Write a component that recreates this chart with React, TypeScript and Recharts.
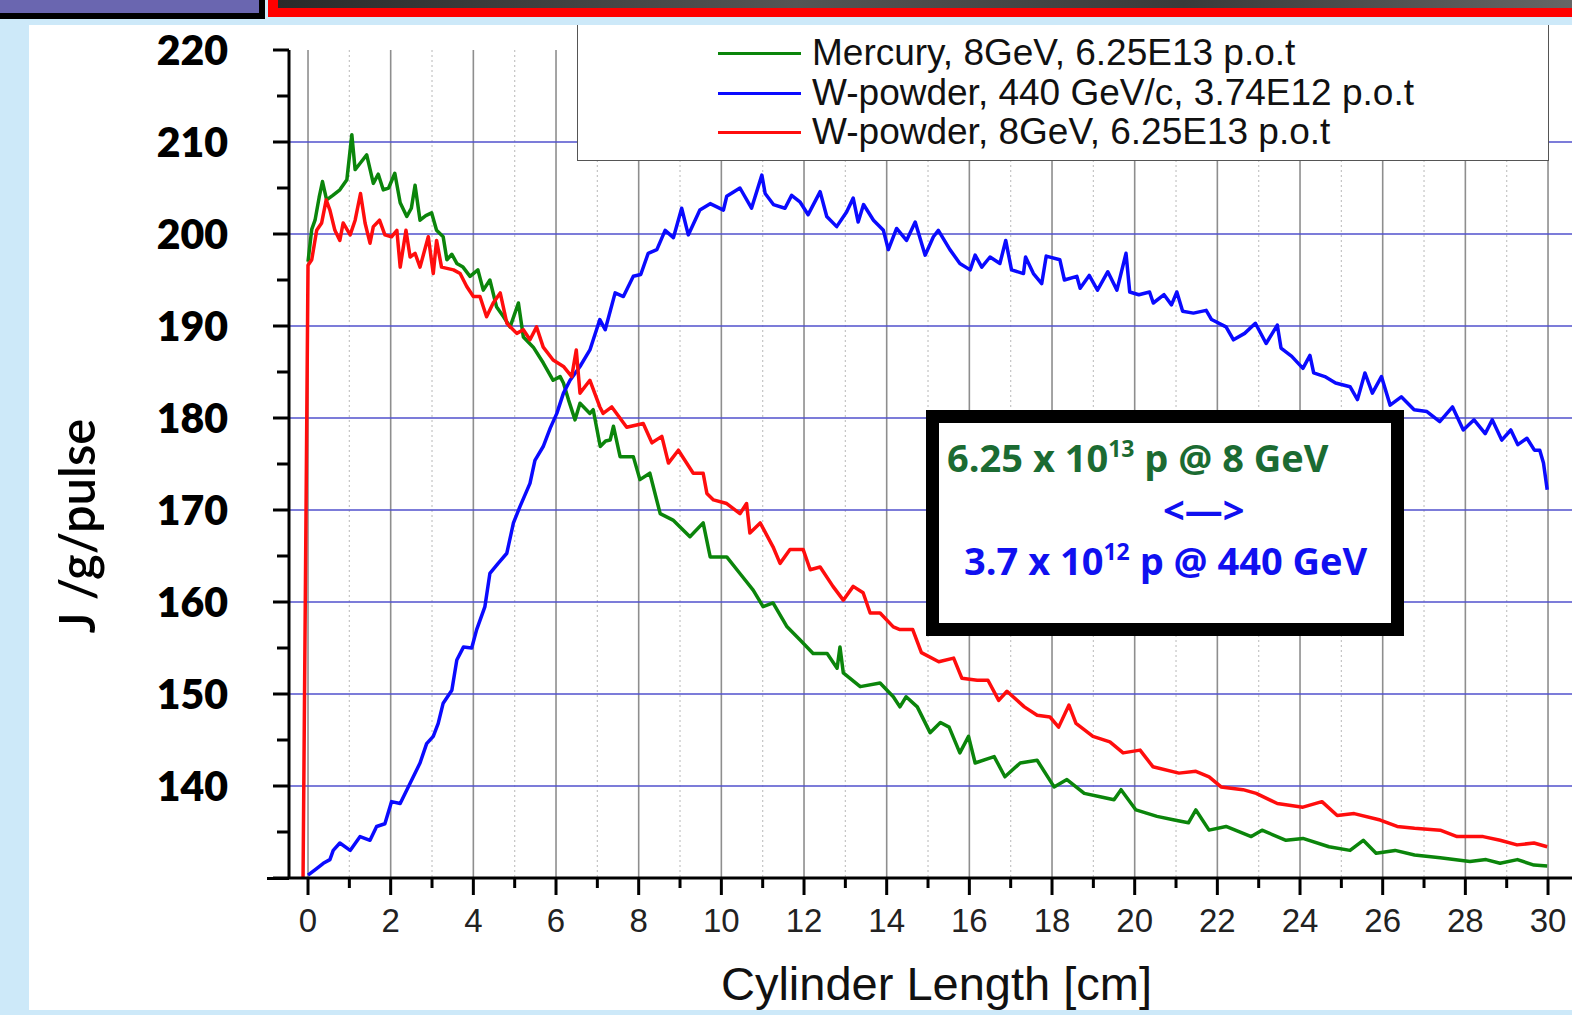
import { LineChart, Line, XAxis, YAxis, CartesianGrid } from "recharts";

// [cylinder length cm, J/g/pulse]
const mercury: [number, number][] = [
  [0, 197.0], [0.09, 200.5], [0.17, 201.5], [0.27, 204.0], [0.35, 205.7], [0.45, 203.7], [0.6, 204.2],
  [0.77, 204.8], [0.94, 205.9], [1.06, 210.8], [1.14, 207.0], [1.28, 207.8], [1.42, 208.6], [1.58, 205.5],
  [1.7, 206.5], [1.82, 204.8], [1.95, 205.0], [2.1, 206.6], [2.23, 203.4], [2.39, 201.9], [2.5, 202.8],
  [2.59, 205.3], [2.71, 201.5], [2.85, 202.0], [2.99, 202.3], [3.11, 200.4], [3.27, 199.7], [3.36, 197.2],
  [3.48, 197.8], [3.6, 196.8], [3.75, 196.4], [3.92, 195.4], [4.11, 196.1], [4.24, 193.9], [4.4, 195.0],
  [4.56, 192.1], [4.73, 191.0], [4.89, 189.9], [5.09, 192.5], [5.21, 188.8], [5.45, 187.7], [5.69, 186.0],
  [5.93, 184.1], [6.1, 184.5], [6.18, 183.8], [6.3, 182.0], [6.46, 179.8], [6.58, 181.6], [6.82, 180.5],
  [6.9, 180.9], [7.07, 176.9], [7.2, 177.5], [7.31, 177.6], [7.39, 179.1], [7.55, 175.8], [7.87, 175.8],
  [8.03, 173.3], [8.27, 174.0], [8.52, 169.6], [8.83, 168.9], [9.24, 167.1], [9.56, 168.6], [9.73, 164.9],
  [10.13, 164.9], [10.45, 163.1], [10.77, 161.3], [11.01, 159.5], [11.25, 159.9], [11.59, 157.3],
  [11.9, 155.9], [12.22, 154.4], [12.56, 154.4], [12.8, 152.8], [12.87, 155.1], [12.95, 152.3],
  [13.36, 150.8], [13.84, 151.2], [14.16, 149.7], [14.32, 148.6], [14.47, 149.7], [14.74, 148.6],
  [15.05, 145.8], [15.3, 146.9], [15.51, 146.4], [15.77, 143.6], [15.98, 145.4], [16.14, 142.5],
  [16.6, 143.2], [16.86, 141.0], [17.23, 142.5], [17.64, 142.8], [18.05, 139.9], [18.36, 140.7],
  [18.78, 139.2], [19.19, 138.8], [19.5, 138.5], [19.67, 139.6], [20.03, 137.4], [20.54, 136.7],
  [20.96, 136.3], [21.3, 136.0], [21.48, 137.4], [21.8, 135.2], [22.21, 135.6], [22.82, 134.5],
  [23.08, 135.2], [23.66, 134.1], [24.07, 134.3], [24.7, 133.4], [25.21, 133.0], [25.53, 134.1],
  [25.84, 132.7], [26.3, 133.0], [26.77, 132.5], [27.39, 132.2], [28.11, 131.8], [28.5, 132.0],
  [28.84, 131.6], [29.26, 132.0], [29.66, 131.4], [29.98, 131.3],
];

const wPowder440: [number, number][] = [
  [0, 130.3], [0.2, 131.0], [0.37, 131.6], [0.53, 132.0], [0.61, 133.0], [0.77, 133.8], [1.02, 133.0],
  [1.26, 134.5], [1.5, 134.1], [1.66, 135.6], [1.86, 135.9], [2.02, 138.3], [2.23, 138.1], [2.47, 140.3],
  [2.71, 142.5], [2.87, 144.6], [3.03, 145.4], [3.15, 146.8], [3.27, 149.0], [3.48, 150.4], [3.6, 153.7],
  [3.76, 155.1], [3.96, 155.0], [4.08, 157.0], [4.28, 159.5], [4.4, 163.1], [4.6, 164.2], [4.81, 165.3],
  [4.97, 168.6], [5.13, 170.4], [5.37, 172.9], [5.49, 175.4], [5.69, 176.9], [5.86, 178.9], [6.02, 180.5],
  [6.18, 182.7], [6.34, 184.1], [6.58, 185.6], [6.82, 187.4], [7.06, 190.7], [7.19, 189.6], [7.43, 193.6],
  [7.63, 193.2], [7.87, 195.4], [8.05, 195.6], [8.23, 197.9], [8.44, 198.3], [8.64, 200.4], [8.84, 199.6],
  [9.04, 202.8], [9.2, 199.9], [9.48, 202.6], [9.73, 203.3], [10.05, 202.6], [10.13, 204.1], [10.45, 205.0],
  [10.73, 202.8], [10.98, 206.4], [11.06, 204.4], [11.26, 203.2], [11.54, 202.8], [11.7, 204.2],
  [11.9, 203.5], [12.1, 202.1], [12.39, 204.6], [12.55, 201.9], [12.79, 200.8], [13.03, 202.4],
  [13.19, 203.9], [13.31, 201.3], [13.44, 203.2], [13.68, 201.5], [13.92, 200.4], [14.04, 198.3],
  [14.24, 200.6], [14.48, 199.3], [14.69, 201.3], [14.93, 197.7], [15.13, 199.7], [15.25, 200.4],
  [15.53, 198.3], [15.77, 196.8], [16.02, 196.1], [16.14, 197.7], [16.3, 196.4], [16.5, 197.5],
  [16.74, 196.8], [16.88, 199.3], [17.02, 196.1], [17.31, 195.7], [17.36, 197.5], [17.55, 195.7],
  [17.75, 194.6], [17.86, 197.6], [18.19, 197.2], [18.3, 195.0], [18.6, 195.4], [18.68, 194.1],
  [18.9, 195.5], [19.1, 193.9], [19.35, 195.9], [19.57, 193.9], [19.79, 197.9], [19.88, 193.7],
  [20.1, 193.4], [20.36, 193.7], [20.45, 192.5], [20.71, 193.4], [20.89, 192.3], [21.02, 193.7],
  [21.16, 191.6], [21.42, 191.4], [21.73, 191.7], [21.86, 190.7], [22.21, 189.9], [22.39, 188.5],
  [22.66, 189.2], [22.92, 190.3], [23.18, 188.1], [23.45, 190.1], [23.54, 187.6], [23.8, 186.7],
  [24.07, 185.4], [24.24, 186.8], [24.33, 184.9], [24.6, 184.5], [24.86, 183.8], [25.21, 183.4],
  [25.39, 182.0], [25.57, 184.9], [25.75, 182.7], [25.97, 184.5], [26.18, 181.4], [26.45, 182.3],
  [26.76, 180.9], [27.07, 180.7], [27.38, 179.6], [27.69, 181.2], [27.95, 178.7], [28.21, 179.8],
  [28.48, 178.3], [28.65, 179.8], [28.88, 177.6], [29.1, 178.7], [29.27, 177.1], [29.49, 177.8],
  [29.67, 176.5], [29.8, 176.5], [29.89, 175.1], [29.98, 172.2],
];

const wPowder8: [number, number][] = [
  [-0.12, 130.0], [0, 196.6], [0.09, 197.2], [0.21, 200.4], [0.33, 201.2], [0.44, 203.7], [0.53, 202.6],
  [0.65, 200.4], [0.77, 199.3], [0.85, 201.2], [1.02, 199.9], [1.14, 201.5], [1.27, 204.4], [1.38, 201.2],
  [1.5, 199.0], [1.58, 200.8], [1.73, 201.5], [1.86, 199.9], [2.02, 199.7], [2.15, 200.4], [2.23, 196.4],
  [2.37, 200.4], [2.47, 197.5], [2.59, 197.9], [2.71, 196.4], [2.91, 199.7], [3.03, 195.7], [3.11, 199.3],
  [3.23, 196.4], [3.52, 196.1], [3.68, 195.7], [3.84, 194.3], [4.0, 193.2], [4.16, 193.2], [4.32, 191.0],
  [4.48, 192.5], [4.65, 193.6], [4.81, 190.3], [5.05, 189.2], [5.21, 189.6], [5.37, 188.5], [5.53, 189.9],
  [5.69, 187.7], [5.93, 186.3], [6.18, 185.6], [6.38, 184.5], [6.49, 187.4], [6.58, 182.7], [6.82, 184.1],
  [7.06, 181.2], [7.14, 180.5], [7.35, 181.2], [7.71, 179.0], [8.11, 179.4], [8.32, 177.3], [8.56, 178.0],
  [8.72, 175.1], [8.96, 176.5], [9.32, 174.0], [9.56, 174.0], [9.65, 171.8], [9.81, 171.1], [10.13, 170.7],
  [10.45, 169.6], [10.61, 170.7], [10.69, 167.5], [10.94, 168.6], [11.25, 166.0], [11.42, 164.2],
  [11.66, 165.7], [11.98, 165.7], [12.15, 163.5], [12.39, 163.8], [12.7, 161.7], [12.95, 160.2],
  [13.19, 161.7], [13.43, 161.0], [13.6, 158.8], [13.84, 158.8], [14.16, 157.3], [14.32, 157.0],
  [14.63, 157.0], [14.84, 154.5], [15.26, 153.5], [15.62, 153.9], [15.82, 151.7], [16.19, 151.5],
  [16.45, 151.5], [16.71, 149.3], [16.91, 150.3], [17.33, 148.6], [17.64, 147.7], [17.95, 147.5],
  [18.16, 146.4], [18.41, 148.8], [18.58, 146.8], [18.99, 145.4], [19.4, 144.8], [19.72, 143.6],
  [20.13, 143.9], [20.44, 142.1], [21.07, 141.4], [21.48, 141.6], [21.8, 141.0], [22.09, 139.9],
  [22.62, 139.6], [22.94, 139.2], [23.45, 138.1], [24.07, 137.7], [24.53, 138.3], [24.9, 136.8],
  [25.31, 137.0], [25.94, 136.3], [26.35, 135.6], [26.77, 135.4], [27.39, 135.2], [27.8, 134.5],
  [28.43, 134.5], [28.84, 134.1], [29.25, 133.6], [29.66, 133.8], [29.98, 133.4],
];

const xTicks = [0, 1, 2, 3, 4, 5, 6, 7, 8, 9, 10, 11, 12, 13, 14, 15, 16, 17, 18, 19, 20, 21, 22, 23, 24, 25, 26, 27, 28, 29, 30];
const xMajor = [0, 2, 4, 6, 8, 10, 12, 14, 16, 18, 20, 22, 24, 26, 28, 30];
const xMinor = [1, 3, 5, 7, 9, 11, 13, 15, 17, 19, 21, 23, 25, 27, 29];
const yTicks = [130, 135, 140, 145, 150, 155, 160, 165, 170, 175, 180, 185, 190, 195, 200, 205, 210, 215, 220];
const yGrid = [140, 150, 160, 170, 180, 190, 200, 210];

const series = [
  { name: "Mercury, 8GeV, 6.25E13 p.o.t", color: "#0b850b", points: mercury },
  { name: "W-powder, 440 GeV/c, 3.74E12 p.o.t", color: "#0a0aff", points: wPowder440 },
  { name: "W-powder, 8GeV, 6.25E13 p.o.t", color: "#ff0d0d", points: wPowder8 },
];

const LIGHT_BLUE = "#cde9f9";

function YTick({ x, y, payload }: any) {
  const v = payload.value;
  const major = v % 10 === 0;
  return (
    <g>
      <line x1={x - (major ? 16 : 12)} x2={x} y1={y} y2={y} stroke="#000" strokeWidth={3} />
      {major && v > 130 && (
        <text x={x - 61} y={y} dy={15} textAnchor="end" fontFamily="Lato" fontWeight={800} fontSize={41} fill="#000">
          {v}
        </text>
      )}
    </g>
  );
}

function XTick({ x, y, payload }: any) {
  const v = payload.value;
  const major = v % 2 === 0;
  return (
    <g>
      <line x1={x} x2={x} y1={y} y2={y + (major ? 17 : 10)} stroke="#000" strokeWidth={3} />
      {major && (
        <text x={x} y={y + 54} textAnchor="middle" fontFamily="Liberation Sans" fontSize={33} fill="#222">
          {v}
        </text>
      )}
    </g>
  );
}

export default function App() {
  return (
    <div style={{ position: "absolute", left: 0, top: 0, width: 1572, height: 1015, overflow: "hidden", background: LIGHT_BLUE }}>
      <div style={{ position: "absolute", left: 29, top: 25, width: 1543, height: 985, background: "#fff" }} />
      <div style={{ position: "absolute", left: 0, top: 0 }}>
        <LineChart width={1572} height={1015} margin={{ top: 50, right: 0, bottom: 0, left: 169 }}>
          <CartesianGrid horizontal={false} verticalValues={xMinor} stroke="#c4c4c4" strokeDasharray="2 3" strokeWidth={1.2} />
          <CartesianGrid horizontal={false} verticalValues={xMajor} stroke="#8e8e8e" strokeWidth={1.6} />
          <CartesianGrid vertical={false} horizontalValues={yGrid} stroke="#5050cc" strokeWidth={1.4} />
          <XAxis
            type="number"
            dataKey="x"
            domain={[-0.46, 30.58]}
            allowDataOverflow
            ticks={xTicks}
            interval={0}
            height={137}
            tickSize={0}
            tickMargin={0}
            tickLine={false}
            tick={<XTick />}
            axisLine={{ stroke: "#000", strokeWidth: 3 }}
            label={{
              content: (p: any) => {
                const vb = p.viewBox || { x: 289, y: 878, width: 1283, height: 137 };
                return (
                  <text x={vb.x + vb.width / 2 + 6} y={vb.y + 122} textAnchor="middle" fontFamily="Liberation Sans" fontSize={47} fill="#111">
                    Cylinder Length [cm]
                  </text>
                );
              },
            }}
          />
          <YAxis
            type="number"
            domain={[130, 220]}
            allowDataOverflow
            ticks={yTicks}
            interval={0}
            width={120}
            tickSize={0}
            tickMargin={0}
            tickLine={false}
            tick={<YTick />}
            axisLine={{ stroke: "#000", strokeWidth: 3 }}
            label={{
              content: (p: any) => {
                const vb = p.viewBox || { x: 169, y: 50, height: 828 };
                const cx = vb.x - 93;
                const cy = vb.y + vb.height / 2 + 62;
                return (
                  <text x={cx} y={cy} transform={`rotate(-90 ${cx} ${cy})`} textAnchor="middle" dominantBaseline="central" fontFamily="Lato" fontWeight={600} fontSize={49} fill="#000">
                    J /g/pulse
                  </text>
                );
              },
            }}
          />
          {series.map((s) => (
            <Line
              key={s.name}
              data={s.points.map(([x, y]) => ({ x, y }))}
              dataKey="y"
              name={s.name}
              stroke={s.color}
              strokeWidth={3.5}
              dot={false}
              activeDot={false}
              isAnimationActive={false}
              strokeLinejoin="round"
            />
          ))}
        </LineChart>
      </div>

      {/* x axis line runs a little past the y axis */}
      <div style={{ position: "absolute", left: 267, top: 876.5, width: 22, height: 3, background: "#000" }} />

      {/* legend */}
      <div style={{ position: "absolute", left: 577, top: 10, width: 972, height: 151, border: "1.5px solid #555", background: "#fff", boxSizing: "border-box" }}>
        {series.map((s, i) => (
          <div key={s.name} style={{ position: "absolute", left: 0, top: [42, 82, 121][i] - 20, height: 40, width: 960 }}>
            <div style={{ position: "absolute", left: 140, top: 18.5, width: 83, height: 3.5, background: s.color }} />
            <div style={{ position: "absolute", left: 234, top: 0, lineHeight: "40px", fontFamily: "Liberation Sans", fontSize: 37, color: "#111", whiteSpace: "nowrap" }}>
              {s.name}
            </div>
          </div>
        ))}
      </div>

      {/* annotation box */}
      <div style={{ position: "absolute", left: 926, top: 410, width: 478, height: 226, border: "13px solid #000", background: "#fff", boxSizing: "border-box", fontFamily: "Open Sans", fontWeight: 700, fontSize: 38, whiteSpace: "nowrap" }}>
        <div style={{ position: "absolute", left: 8, top: 15, lineHeight: "38px", color: "#1b6b32" }}>
          6.25 x 10<span style={{ position: "relative", top: -15, fontSize: 23 }}>13</span> p @ 8 GeV
        </div>
        <div style={{ position: "absolute", left: 224, top: 67, lineHeight: "38px", color: "#1010f0" }}>&lt;—&gt;</div>
        <div style={{ position: "absolute", left: 25, top: 118, lineHeight: "38px", color: "#1010f0" }}>
          3.7 x 10<span style={{ position: "relative", top: -15, fontSize: 23 }}>12</span> p @ 440 GeV
        </div>
      </div>

      {/* slide header */}
      <div style={{ position: "absolute", left: 0, top: 0, width: 1572, height: 25, background: LIGHT_BLUE }} />
      <div style={{ position: "absolute", left: 0, top: 0, width: 265, height: 19, background: "#6a66b0", borderRight: "6px solid #000", borderBottom: "6px solid #000", boxSizing: "border-box" }} />
      <div style={{ position: "absolute", left: 268, top: 0, width: 1304, height: 17, borderLeft: "10px solid #ff0000", borderBottom: "9px solid #ff0000", boxSizing: "border-box", background: "linear-gradient(90deg, #2a2a2a, #555 40%, #3a3a3a 70%, #666)" }} />
    </div>
  );
}
